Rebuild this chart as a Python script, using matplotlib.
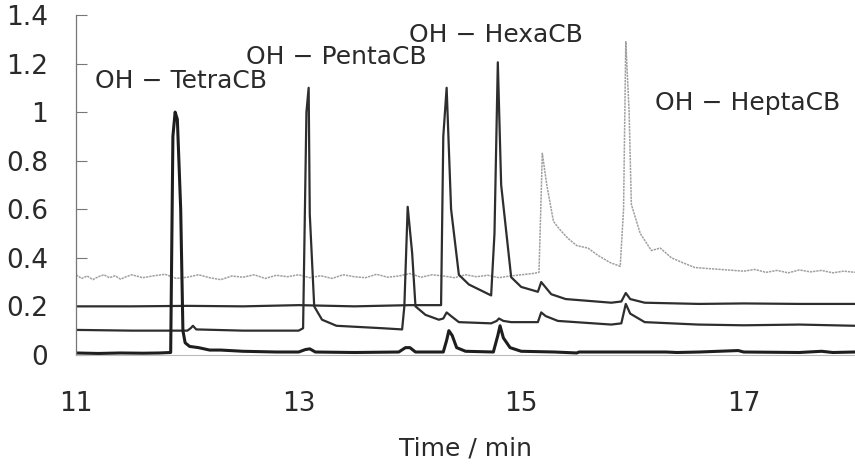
import matplotlib
matplotlib.use("Agg")
import matplotlib.pyplot as plt

plt.rcParams['font.family'] = ['DejaVu Sans']

# chromatogram traces, stacked by baseline offset (time in min, response)
t_tetra = [11.0, 11.2, 11.4, 11.6, 11.75, 11.85, 11.87, 11.89, 11.91, 11.94, 11.96, 11.98,
           12.02, 12.1, 12.2, 12.3, 12.5, 12.8, 13.0, 13.06, 13.1, 13.15, 13.5, 13.9,
           13.96, 14.0, 14.05, 14.3, 14.33, 14.35, 14.38, 14.42, 14.5, 14.75, 14.79, 14.81,
           14.84, 14.9, 15.0, 15.3, 15.5, 15.52, 15.7, 16.0, 16.3, 16.4, 16.6, 16.95,
           17.0, 17.5, 17.7, 17.8, 18.0]
y_tetra = [0.008, 0.006, 0.008, 0.007, 0.008, 0.01, 0.9, 1.0, 0.97, 0.6, 0.1, 0.05,
           0.035, 0.03, 0.02, 0.02, 0.015, 0.012, 0.012, 0.022, 0.025, 0.012, 0.01, 0.012,
           0.03, 0.03, 0.012, 0.012, 0.06, 0.10, 0.08, 0.03, 0.015, 0.012, 0.08, 0.12,
           0.07, 0.03, 0.015, 0.012, 0.008, 0.012, 0.012, 0.012, 0.012, 0.01, 0.012, 0.018,
           0.012, 0.01, 0.015, 0.01, 0.012]

t_penta = [11.0, 11.5, 12.0, 12.03, 12.05, 12.08, 12.5, 13.0, 13.04, 13.07, 13.09, 13.1,
           13.14, 13.21, 13.34, 13.75, 13.93, 13.95, 13.98, 14.02, 14.05, 14.14, 14.26,
           14.3, 14.33, 14.37, 14.44, 14.73, 14.78, 14.80, 14.84, 14.91, 15.15, 15.18,
           15.22, 15.33, 15.81, 15.9, 15.94, 15.98, 16.11, 16.59, 17.0, 17.5, 18.0]
y_penta = [0.103, 0.10, 0.10, 0.11, 0.12, 0.105, 0.10, 0.10, 0.11, 1.0, 1.10, 0.58,
           0.20, 0.145, 0.12, 0.11, 0.105, 0.2, 0.61, 0.42, 0.20, 0.165, 0.145,
           0.15, 0.175, 0.16, 0.135, 0.13, 0.14, 0.15, 0.14, 0.135, 0.135, 0.175,
           0.16, 0.14, 0.125, 0.13, 0.21, 0.17, 0.135, 0.125, 0.122, 0.125, 0.12]

t_hexa = [11.0, 11.5, 12.0, 12.5, 13.0, 13.5, 14.0, 14.28, 14.3, 14.33, 14.37, 14.44,
          14.53, 14.73, 14.76, 14.79, 14.82, 14.91, 15.0, 15.15, 15.18, 15.27, 15.40,
          15.81, 15.9, 15.94, 15.98, 16.11, 16.6, 17.0, 17.5, 18.0]
y_hexa = [0.20, 0.20, 0.202, 0.20, 0.205, 0.20, 0.205, 0.205, 0.9, 1.10, 0.6, 0.33,
          0.29, 0.245, 0.5, 1.205, 0.7, 0.32, 0.28, 0.26, 0.30, 0.25, 0.23,
          0.215, 0.22, 0.255, 0.23, 0.215, 0.21, 0.212, 0.21, 0.21]

t_hepta = [11.0, 11.05, 11.1, 11.15, 11.2, 11.25, 11.3, 11.35, 11.4, 11.45, 11.5, 11.6,
           11.7, 11.8, 11.9, 12.0, 12.1, 12.2, 12.3, 12.4, 12.5, 12.6, 12.7, 12.8,
           12.9, 13.0, 13.1, 13.2, 13.3, 13.4, 13.5, 13.6, 13.7, 13.8, 13.9, 14.0,
           14.1, 14.2, 14.3, 14.4, 14.5, 14.6, 14.7, 14.8, 14.9, 15.0, 15.1, 15.16,
           15.19, 15.23, 15.29, 15.34, 15.42, 15.5, 15.6, 15.69, 15.8, 15.89, 15.92,
           15.94, 15.97, 15.99, 16.07, 16.17, 16.25, 16.35, 16.45, 16.56, 16.7, 16.85,
           17.0, 17.1, 17.2, 17.3, 17.4, 17.5, 17.6, 17.7, 17.8, 17.9, 18.0]
y_hepta = [0.33, 0.315, 0.325, 0.31, 0.322, 0.33, 0.318, 0.326, 0.312, 0.322, 0.33, 0.318,
           0.326, 0.332, 0.315, 0.32, 0.33, 0.318, 0.31, 0.325, 0.32, 0.33, 0.315, 0.328,
           0.322, 0.33, 0.318, 0.326, 0.315, 0.33, 0.322, 0.318, 0.332, 0.32, 0.325, 0.335,
           0.32, 0.33, 0.325, 0.318, 0.33, 0.322, 0.328, 0.318, 0.325, 0.33, 0.335, 0.34,
           0.83, 0.70, 0.55, 0.52, 0.48, 0.45, 0.44, 0.41, 0.38, 0.365, 0.6,
           1.29, 1.0, 0.62, 0.50, 0.43, 0.44, 0.40, 0.38, 0.36, 0.355, 0.35,
           0.345, 0.352, 0.34, 0.348, 0.338, 0.35, 0.342, 0.348, 0.338, 0.345, 0.34]

labels = ['OH − TetraCB', 'OH − PentaCB', 'OH − HexaCB', 'OH − HeptaCB']
label_pos = [(11.17, 1.10), (12.53, 1.20), (13.99, 1.29), (16.20, 1.01)]

fig = plt.figure(figsize=(8.55, 4.67), dpi=100)
ax = fig.add_axes([0.089, 0.24, 0.911, 0.728])

ax.plot(t_hepta, y_hepta, color='#a0a0a0', lw=1.1, linestyle=(0, (1.5, 0.6)))
ax.plot(t_hexa, y_hexa, color='#2e2e2e', lw=1.6)
ax.plot(t_penta, y_penta, color='#2e2e2e', lw=1.6)
ax.plot(t_tetra, y_tetra, color='#1e1e1e', lw=2.2)

for txt, (x, y) in zip(labels, label_pos):
    ax.text(x, y, txt, fontsize=18, color='#2a2a2a', ha='left', va='baseline')

ax.set_xlim(11, 18)
ax.set_ylim(0, 1.4)
ax.set_xticks([11, 13, 15, 17])
ax.set_yticks([0, 0.2, 0.4, 0.6, 0.8, 1.0, 1.2, 1.4])
ax.set_yticklabels(['0', '0.2', '0.4', '0.6', '0.8', '1', '1.2', '1.4'])

for s in ['top', 'right']:
    ax.spines[s].set_visible(False)
ax.spines['left'].set_color('#777777')
ax.spines['left'].set_linewidth(0.9)
ax.spines['bottom'].set_color('#bbbbbb')
ax.spines['bottom'].set_linewidth(0.8)

ax.tick_params(axis='y', direction='in', length=8, width=0.8, color='#777777',
               pad=20, labelsize=19, labelcolor='#2a2a2a')
ax.tick_params(axis='x', length=0, pad=26, labelsize=19, labelcolor='#2a2a2a')
ax.set_xlabel('Time / min', fontsize=18, color='#2a2a2a', labelpad=14)

fig.savefig('out.png', dpi=100)
